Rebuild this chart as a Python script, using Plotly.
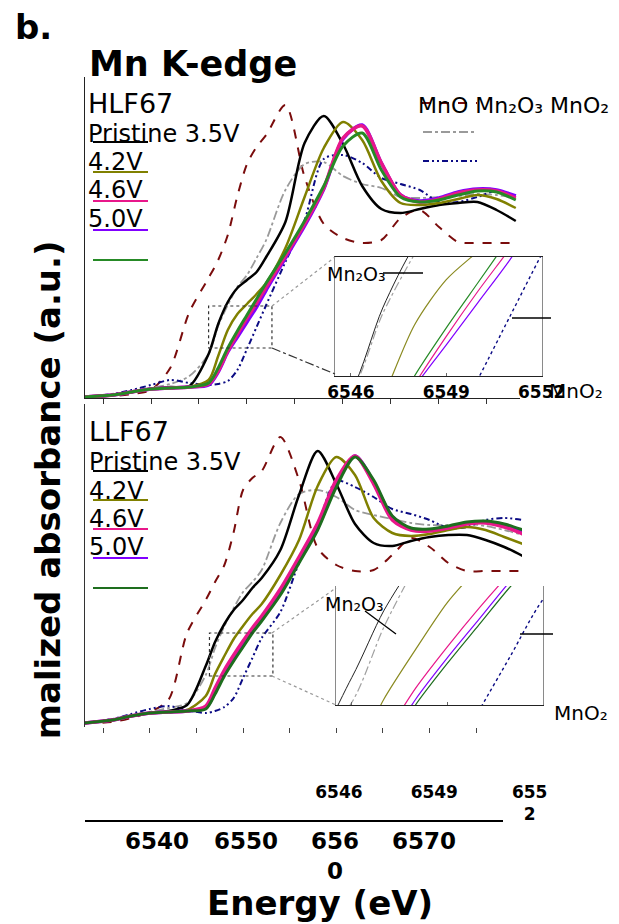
import plotly.graph_objects as go

W, H = 619, 924

# ---------------- data ----------------
energy_hlf = [6533, 6536, 6538, 6540, 6542, 6544, 6546, 6547, 6548, 6549, 6550, 6551, 6552,
              6554, 6556, 6558, 6560, 6562, 6564, 6566, 6568, 6570, 6572, 6574, 6576, 6578]
energy_llf = energy_hlf + [6580]

# HLF67 panel
hlf_pristine = [-0.005, 0.005, 0.02, 0.035, 0.045, 0.05, 0.21, 0.36, 0.47, 0.54, 0.58, 0.62, 0.695,
                0.87, 1.265, 1.40, 1.26, 1.05, 0.935, 0.915, 0.935, 0.955, 0.965, 0.97, 0.93, 0.875]
hlf_42 = [-0.005, 0.005, 0.02, 0.035, 0.04, 0.045, 0.08, 0.20, 0.33, 0.41, 0.46, 0.51, 0.565,
          0.74, 0.995, 1.24, 1.37, 1.28, 1.075, 0.965, 0.955, 0.965, 0.985, 1.005, 0.985, 0.94]
hlf_46 = [-0.005, 0.005, 0.02, 0.035, 0.04, 0.045, 0.06, 0.125, 0.225, 0.31, 0.39, 0.465, 0.545,
          0.70, 0.86, 1.04, 1.29, 1.35, 1.165, 1.005, 0.97, 0.985, 1.015, 1.03, 1.025, 0.99]
hlf_50 = [-0.005, 0.005, 0.02, 0.035, 0.04, 0.045, 0.055, 0.12, 0.22, 0.295, 0.37, 0.445, 0.53,
          0.69, 0.85, 1.035, 1.285, 1.355, 1.165, 1.005, 0.975, 0.99, 1.02, 1.035, 1.03, 1.0]
hlf_green = [-0.005, 0.005, 0.02, 0.035, 0.04, 0.045, 0.065, 0.14, 0.24, 0.325, 0.405, 0.485, 0.565,
             0.715, 0.875, 1.05, 1.25, 1.315, 1.13, 0.995, 0.97, 0.98, 1.005, 1.025, 1.02, 0.98]
hlf_mno = [-0.005, 0.0, 0.01, 0.03, 0.14, 0.42, 0.59, 0.68, 0.805, 1.0, 1.16, 1.245, 1.305,
           1.455, 1.095, 0.86, 0.79, 0.765, 0.78, 0.89, 0.93, 0.845, 0.77, 0.765, 0.765, 0.765]
hlf_mn2o3 = [-0.005, 0.005, 0.02, 0.04, 0.06, 0.10, 0.21, 0.35, 0.455, 0.545, 0.605, 0.69, 0.78,
             1.03, 1.16, 1.17, 1.10, 1.06, 1.04, 0.995, 0.99, 0.995, 1.0, 1.01, 1.005, 0.99]
hlf_mno2 = [-0.005, 0.01, 0.03, 0.055, 0.08, 0.065, 0.055, 0.06, 0.075, 0.13, 0.235, 0.345, 0.455,
            0.67, 0.88, 1.185, 1.205, 1.165, 1.09, 1.06, 1.03, 0.97, 0.97, 0.995, 1.025, 0.995]

# LLF67 panel
llf_pristine = [-0.005, 0.01, 0.03, 0.045, 0.055, 0.085, 0.28, 0.40, 0.49, 0.56, 0.61, 0.67, 0.72,
                0.86, 1.135, 1.355, 1.19, 0.99, 0.895, 0.88, 0.905, 0.925, 0.935, 0.935, 0.91, 0.875, 0.83]
llf_42 = [-0.005, 0.01, 0.03, 0.045, 0.05, 0.06, 0.13, 0.24, 0.33, 0.415, 0.48, 0.54, 0.59,
          0.735, 0.91, 1.18, 1.325, 1.235, 1.02, 0.945, 0.93, 0.94, 0.96, 0.975, 0.96, 0.925, 0.89]
llf_46 = [-0.005, 0.01, 0.03, 0.045, 0.05, 0.055, 0.08, 0.17, 0.26, 0.335, 0.405, 0.47, 0.53,
          0.665, 0.825, 0.995, 1.21, 1.33, 1.19, 1.01, 0.96, 0.955, 0.97, 0.99, 0.995, 0.975, 0.94]
llf_50 = [-0.005, 0.01, 0.03, 0.045, 0.05, 0.055, 0.07, 0.15, 0.24, 0.315, 0.385, 0.455, 0.515,
          0.645, 0.805, 0.97, 1.19, 1.33, 1.2, 1.025, 0.965, 0.96, 0.975, 0.995, 1.0, 0.985, 0.95]
llf_green = [-0.005, 0.01, 0.03, 0.045, 0.05, 0.055, 0.065, 0.14, 0.23, 0.305, 0.375, 0.445, 0.505,
             0.635, 0.795, 0.96, 1.175, 1.325, 1.21, 1.03, 0.97, 0.965, 0.98, 1.0, 1.005, 0.99, 0.96]
llf_mno = [-0.005, 0.0, 0.02, 0.05, 0.11, 0.445, 0.61, 0.70, 0.785, 0.95, 1.16, 1.22, 1.255,
           1.425, 1.21, 0.87, 0.785, 0.755, 0.76, 0.835, 0.92, 0.875, 0.795, 0.755, 0.755, 0.755, 0.755]
llf_mn2o3 = [-0.005, 0.01, 0.03, 0.05, 0.07, 0.095, 0.235, 0.37, 0.48, 0.57, 0.65, 0.70, 0.76,
             0.995, 1.14, 1.16, 1.125, 1.06, 1.035, 1.015, 0.995, 0.985, 0.985, 0.99, 0.98, 0.96, 0.935]
llf_mno2 = [-0.005, 0.015, 0.04, 0.065, 0.08, 0.06, 0.045, 0.055, 0.075, 0.12, 0.22, 0.32, 0.42,
            0.55, 0.795, 0.985, 1.205, 1.175, 1.125, 1.065, 1.04, 1.01, 0.97, 0.975, 1.01, 1.02, 1.01]

series_names = ["MnO", "Mn2O3", "MnO2", "Pristine 3.5V", "4.2V", "5.0V", "4.6V", "green"]
hlf_series = [hlf_mno, hlf_mn2o3, hlf_mno2, hlf_pristine, hlf_42, hlf_50, hlf_46, hlf_green]
llf_series = [llf_mno, llf_mn2o3, llf_mno2, llf_pristine, llf_42, llf_50, llf_46, llf_green]

main_ticks = [6540, 6550, 6560, 6570]
main_ticktext = ["6540", "6550", "656<br>0", "6570"]
inset_ticks = [6546, 6549, 6552]
inset_ticktext_top = ["6546", "6549", "6552"]
inset_ticktext_bottom = ["6546", "6549", "655<br>2"]

# ---------------- styles ----------------
FONT = "DejaVu Sans"
DASHDOTDOT = "6px,3px,2px,3px,2px,3px"
main_style = {
    "MnO": dict(color="#7a0c0c", dash="dash", width=2),
    "Mn2O3": dict(color="#9a9a9a", dash="dashdot", width=1.8),
    "MnO2": dict(color="#0b0b84", dash=DASHDOTDOT, width=2),
    "Pristine 3.5V": dict(color="black", width=2.5),
    "4.2V": dict(color="#808000", width=2.5),
    "4.6V": dict(color="#e8178a", width=3.5),
    "5.0V": dict(color="#8000ff", width=3.5),
    "green": dict(color="#268a26", width=3),
}
inset_style = {
    "MnO": dict(color="#7a0c0c", dash="dash", width=1),
    "Mn2O3": dict(color="#a0a0a0", dash="dashdot", width=1.2),
    "MnO2": dict(color="#0b0b84", dash="dot", width=1.4),
    "Pristine 3.5V": dict(color="#222222", width=1),
    "4.2V": dict(color="#8a8a20", width=1.2),
    "4.6V": dict(color="#e8178a", width=1.2),
    "5.0V": dict(color="#8000ff", width=1.2),
    "green": dict(color="#268a26", width=1.2),
}


def fx(px):
    return px / W


def fy(py):
    return 1 - py / H


fig = go.Figure()

panels = [
    (energy_hlf, hlf_series, "x", "y", "x3", "y3", "#268a26"),
    (energy_llf, llf_series, "x2", "y2", "x4", "y4", "#1e6e1e"),
]
for energy, series, xa, ya, xi, yi, gcol in panels:
    for name, vals in zip(series_names, series):
        st = dict(main_style[name])
        if name == "green":
            st["color"] = gcol
        fig.add_trace(go.Scatter(x=energy, y=vals, mode="lines", xaxis=xa, yaxis=ya,
                                 line=dict(shape="spline", smoothing=0.8, **st),
                                 showlegend=False, hoverinfo="skip"))
    for name, vals in zip(series_names, series):
        st = dict(inset_style[name])
        if name == "green":
            st["color"] = gcol
        fig.add_trace(go.Scatter(x=energy, y=vals, mode="lines", xaxis=xi, yaxis=yi,
                                 line=dict(shape="spline", smoothing=0.8, **st),
                                 showlegend=False, hoverinfo="skip"))

# dummy trace for label axis
fig.add_trace(go.Scatter(x=[6540], y=[0], xaxis="x5", yaxis="y5", mode="markers",
                         marker=dict(opacity=0), showlegend=False, hoverinfo="skip"))

noaxis = dict(showgrid=False, zeroline=False, automargin=False)

inset_x_range = [6545.5, 6552.01]
top_inset_y = [0.24, 0.45]
bot_inset_y = [0.23, 0.445]

fig.update_layout(
    width=W, height=H, margin=dict(l=0, r=0, t=0, b=0, autoexpand=False),
    paper_bgcolor="white", plot_bgcolor="white",
    font=dict(family=FONT, color="black"),
    xaxis=dict(domain=[fx(85), fx(520)], range=[6533.125, 6578.44], anchor="y",
               showline=True, linecolor="#222", linewidth=1.3,
               ticks="outside", ticklen=5, tickcolor="#333", tick0=6535, dtick=5,
               showticklabels=False, **noaxis),
    yaxis=dict(domain=[fy(398), fy(77)], range=[-0.01, 1.595], anchor="x",
               showline=True, linecolor="#222", linewidth=1.3,
               ticks="", showticklabels=False, **noaxis),
    xaxis2=dict(domain=[fx(85), fx(522)], range=[6533.06, 6579.9], anchor="y2",
                showline=False, ticks="outside", ticklen=5, tickcolor="#444",
                tick0=6535, dtick=5, showticklabels=False, **noaxis),
    yaxis2=dict(domain=[fy(727), fy(404)], range=[-0.025, 1.59], anchor="x2",
                showline=True, linecolor="#333", linewidth=1.3,
                ticks="", showticklabels=False, **noaxis),
    xaxis3=dict(domain=[fx(335), fx(542)], range=inset_x_range, anchor="y3",
                showline=True, linecolor="#222", linewidth=1.3, mirror=True,
                ticks="inside", ticklen=3, tickcolor="#666",
                tickvals=inset_ticks, ticktext=inset_ticktext_top,
                tickfont=dict(family=FONT, size=17, weight="bold", color="black"),
                **noaxis),
    yaxis3=dict(domain=[fy(376), fy(257)], range=top_inset_y, anchor="x3",
                showline=True, linecolor="#8a8a8a", linewidth=1.3, mirror=True,
                ticks="", showticklabels=False, **noaxis),
    xaxis4=dict(domain=[fx(336), fx(543)], range=inset_x_range, anchor="y4",
                showline=True, linecolor="#222", linewidth=1.3,
                ticks="inside", ticklen=3, tickcolor="#666",
                tickvals=inset_ticks, ticktext=inset_ticktext_bottom,
                ticklabelstandoff=71, ticklabelshift=-13,
                tickfont=dict(family=FONT, size=17, weight="bold", color="black"),
                **noaxis),
    yaxis4=dict(domain=[fy(705), fy(586)], range=bot_inset_y, anchor="x4",
                showline=True, linecolor="#8a8a8a", linewidth=1.3, mirror=True,
                ticks="", showticklabels=False, **noaxis),
    xaxis5=dict(domain=[fx(85), fx(503)], range=[6531.91, 6578.88], anchor="y5",
                showline=True, linecolor="black", linewidth=1.5, ticks="",
                tickvals=main_ticks, ticktext=main_ticktext,
                tickfont=dict(family=FONT, size=23, weight="bold", color="black"),
                **noaxis),
    yaxis5=dict(domain=[fy(820), fy(818)], range=[0, 1], anchor="x5", visible=False,
                automargin=False),
)

shapes = []


def pline(x0, y0, x1, y1, color, width=2, dash="solid"):
    shapes.append(dict(type="line", xref="paper", yref="paper",
                       x0=fx(x0), y0=fy(y0), x1=fx(x1), y1=fy(y1),
                       line=dict(color=color, width=width, dash=dash)))


# legend sample lines (left)
leg_cols_top = ["black", "#808000", "#e8178a", "#8000ff", "#268a26"]
for yy, c in zip([142, 172, 201, 230, 260], leg_cols_top):
    pline(93, yy, 148, yy, c, 2)
leg_cols_bot = ["black", "#808000", "#e8178a", "#8000ff", "#1e6e1e"]
for yy, c in zip([471, 500, 529, 558, 588], leg_cols_bot):
    pline(93, yy, 148, yy, c, 2)

# reference legend lines (right)
pline(422, 103, 477, 103, "#7a0c0c", 2, "dash")
pline(423, 132, 475, 132, "#9a9a9a", 2, "dashdot")
pline(423, 161, 477, 161, "#0b0b84", 2, DASHDOTDOT)

# zoom boxes
shapes.append(dict(type="rect", xref="x", yref="y", x0=6546.0, x1=6552.6, y0=0.24, y1=0.45,
                   line=dict(color="#333", width=1.2, dash="dot")))
shapes.append(dict(type="rect", xref="x2", yref="y2", x0=6546.4, x1=6553.2, y0=0.23, y1=0.445,
                   line=dict(color="#333", width=1.2, dash="dot")))
# connectors
pline(272, 306, 335, 257, "#999", 1.2, "dot")
pline(272, 348, 335, 374, "#333", 1.2, "dashdot")
pline(272, 633, 336, 588, "#999", 1.2, "dot")
pline(272, 676, 336, 705, "#999", 1.2, "dot")

# label leader lines
pline(383, 273, 423, 273, "black", 1.3)
pline(512, 318, 551, 318, "black", 1.3)
pline(365, 611, 396, 634, "black", 1.3)
pline(520, 634, 553, 634, "black", 1.3)

fig.update_layout(shapes=shapes)

ann = []


def text(x, y, s, size, bold=False, xanchor="left", angle=0, yanchor="middle"):
    ann.append(dict(x=fx(x), y=fy(y), xref="paper", yref="paper", text=s, showarrow=False,
                    xanchor=xanchor, yanchor=yanchor, textangle=angle,
                    font=dict(family=FONT, size=size, color="black",
                              weight="bold" if bold else "normal")))


text(13, 27, "b.", 34, bold=True)
text(87, 64, "Mn K-edge", 35, bold=True)

text(86, 103, "HLF67", 27)
text(86, 134, "Pristine 3.5V", 24)
text(86, 162, "4.2V", 24)
text(86, 190, "4.6V", 24)
text(86, 219, "5.0V", 24)

text(87, 432, "LLF67", 27)
text(87, 462, "Pristine 3.5V", 24)
text(87, 491, "4.2V", 24)
text(87, 519, "4.6V", 24)
text(87, 547, "5.0V", 24)

text(416, 105, "MnO Mn₂O₃ MnO₂", 22)
text(325, 274, "Mn₂O₃", 19)
text(323, 604, "Mn₂O₃", 19)
text(547, 391, "MnO₂", 20)
text(552, 713, "MnO₂", 20)

text(320, 903, "Energy (eV)", 34, bold=True, xanchor="center")
text(48, 524, "Normalized absorbance (a.u.)", 34, bold=True, xanchor="center", angle=-90)
# the axis title is clipped at its lower end in the reference
ann.append(dict(x=fx(48), y=fy(736), xref="paper", yref="paper", text="&nbsp;",
                showarrow=False, xanchor="center", yanchor="top", width=64, height=110,
                bgcolor="white", font=dict(size=4)))

fig.update_layout(annotations=ann)

fig.write_html("out.html")
